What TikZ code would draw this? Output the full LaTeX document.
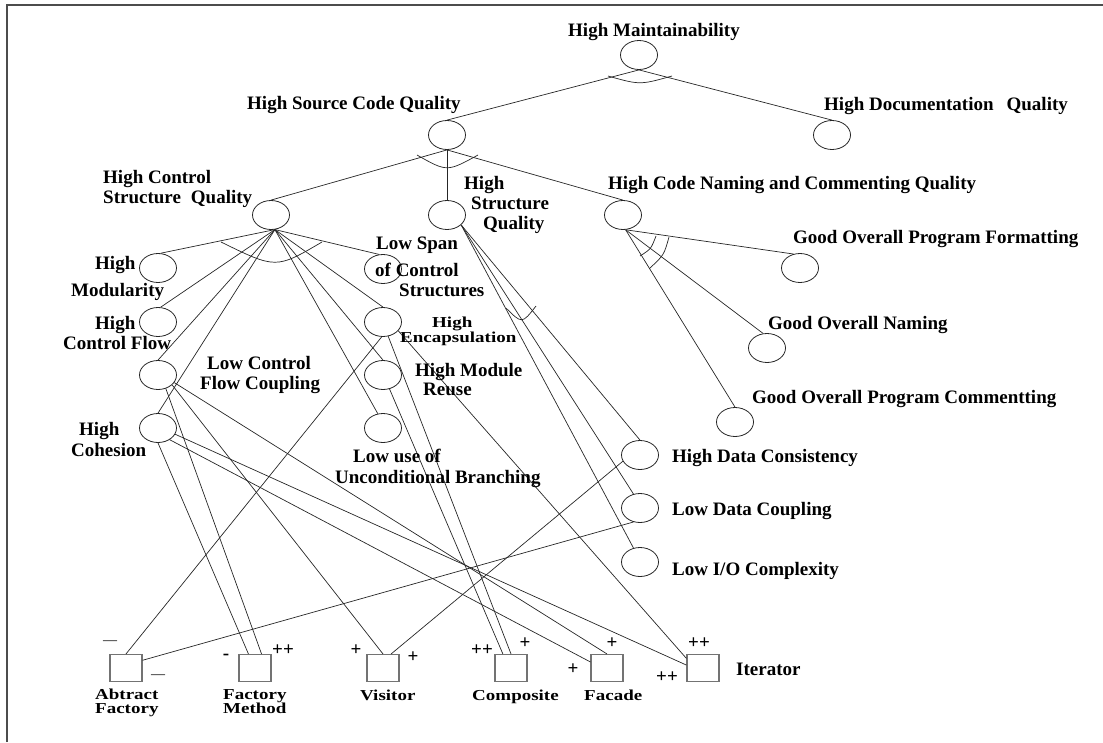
\documentclass[tikz,border=0pt]{standalone}
\usepackage{fontspec}
\setmainfont{Liberation Serif}
\usetikzlibrary{shapes.geometric}
\newcommand{\vsq}[1]{\scalebox{1}[0.8]{#1}}
\begin{document}
\begin{tikzpicture}[x=1pt,y=-1pt,
  goal/.style={draw=black!85, line width=0.8pt, ellipse, minimum width=37pt, minimum height=29pt, inner sep=0pt},
  pat/.style={draw=black!55, line width=1.1pt, rectangle, minimum width=32pt, minimum height=27pt, inner sep=0pt},
  lbl/.style={font=\fontsize{19}{20}\selectfont\bfseries, inner sep=0pt, anchor=base west},
  sgn/.style={font=\fontsize{19}{20}\selectfont\bfseries, inner sep=0pt},
  dsh/.style={font=\fontsize{14}{14}\selectfont, inner sep=0pt},
  link/.style={draw=black!85, line width=0.7pt},
  andarc/.style={draw=black!85, line width=0.7pt}]
\useasboundingbox (0,0) rectangle (1103,742);
% frame
\draw[gray!60!black, line width=1.8pt] (7,742) -- (7,5) -- (1103,5);

% goal nodes
\node[goal] (HM) at (639,55) {};
\node[goal] (HSCQ) at (447,135) {};
\node[goal] (HDQ) at (832,135) {};
\node[goal] (HCSQ) at (271,215) {};
\node[goal] (HSQ) at (447,215) {};
\node[goal] (HCNCQ) at (623,215) {};
\node[goal] (HMod) at (158,268) {};
\node[goal] (HCF) at (158,322) {};
\node[goal] (LCFC) at (158,375) {};
\node[goal] (HCoh) at (158,428) {};
\node[goal] (LSCS) at (383,269) {};
\node[goal] (HEnc) at (383,322) {};
\node[goal] (HMR) at (383,375) {};
\node[goal] (LUUB) at (383,428) {};
\node[goal] (GOPF) at (800,268) {};
\node[goal] (GON) at (767,348) {};
\node[goal] (GOPC) at (735,422) {};
\node[goal] (HDC) at (640,455) {};
\node[goal] (LDC) at (640,508) {};
\node[goal] (LIO) at (640,562) {};

% pattern boxes
\node[pat] (AF) at (126,668) {};
\node[pat] (FM) at (255,668) {};
\node[pat] (Vis) at (383,668) {};
\node[pat] (Comp) at (511,668) {};
\node[pat] (Fac) at (607,668) {};
\node[pat] (Iter) at (703,668) {};

% decomposition links
\draw[link] (HM.south) -- (HSCQ.north);
\draw[link] (HM.south) -- (HDQ.north);
\draw[andarc] (608,76) .. controls (640,85) .. (672,76);

\draw[link] (HSCQ.south) -- (HCSQ.north);
\draw[link] (HSCQ.south) -- (HSQ.north);
\draw[link] (HSCQ.south) -- (HCNCQ.north);
\draw[andarc] (417,155) .. controls (447,172) .. (478,155);

\draw[link] (HCSQ.-75) -- (HMod.80);
\draw[link] (HCSQ.-75) -- (HCF.80);
\draw[link] (HCSQ.-75) -- (LCFC.north);
\draw[link] (HCSQ.-75) -- (HCoh.north);
\draw[link] (HCSQ.-75) -- (LSCS.105);
\draw[link] (HCSQ.-75) -- (HEnc.north);
\draw[link] (HCSQ.-75) -- (HMR.north);
\draw[link] (HCSQ.-75) -- (LUUB.110);
\draw[andarc] (221,242) .. controls (276,269) .. (322,242);

\draw[link] (HSQ.-35) -- (HDC.north);
\draw[link] (HSQ.-35) -- (LDC.115);
\draw[link] (HSQ.-35) -- (LIO.115);
\draw[andarc] (506,308) .. controls (522,324) .. (536,306);

\draw[link] (HCNCQ.-80) -- (GOPF.115);
\draw[link] (HCNCQ.-80) -- (GON.105);
\draw[link] (HCNCQ.-80) -- (GOPC.north);
\draw[andarc] (656,236) .. controls (651,249) .. (640,256);
\draw[andarc] (669,237) .. controls (664,255) .. (650,268);

% contribution links
\draw[link] (HEnc.-95) -- (AF.north);
\draw[link] (LDC.-115) -- (AF.25);
\draw[link] (HCoh.south) -- (FM.115);
\draw[link] (LCFC.-60) -- (FM.65);
\draw[link] (LCFC.-35) -- (Vis.north);
\draw[link] (HDC.-160) -- (Vis.60);
\draw[link] (HMR.-65) -- (Comp.120);
\draw[link] (HEnc.-70) -- (Comp.north);
\draw[link] (LCFC.-25) -- (Fac.north);
\draw[link] (HCoh.-45) -- (Fac.160);
\draw[link] (HCoh.-20) -- (Iter.170);
\draw[link] (HEnc.-30) -- (Iter.150);

% labels
\node[lbl] (tHM) at (568,36) {High Maintainability};
\node[lbl] (tHSCQ) at (247,109) {High Source Code Quality};
\node[lbl] (tHDQ) at (824,110) {High Documentation\hspace{13pt}Quality};
\node[lbl] (tHCSQa) at (103,183) {High Control};
\node[lbl] (tHCSQb) at (103,203) {Structure\hspace{10pt}Quality};
\node[lbl] (tHSQa) at (464,189) {High};
\node[lbl] (tHSQb) at (471,209) {Structure};
\node[lbl] (tHSQc) at (483,229) {Quality};
\node[lbl] (tHCNCQ) at (608,189) {High Code Naming and Commenting Quality};
\node[lbl] (tGOPF) at (793,243) {Good Overall Program Formatting};
\node[lbl] (tGON) at (768,329) {Good Overall Naming};
\node[lbl] (tGOPC) at (752,403) {Good Overall Program Commentting};
\node[lbl] (tHModa) at (95,269) {High};
\node[lbl] (tHModb) at (71,296) {Modularity};
\node[lbl] (tHCFa) at (95,329) {High};
\node[lbl] (tHCFb) at (63,349) {Control Flow};
\node[lbl] (tLCFCa) at (207,369) {Low Control};
\node[lbl] (tLCFCb) at (200,389) {Flow Coupling};
\node[lbl] (tHCoha) at (79,435) {High};
\node[lbl] (tHCohb) at (71,456) {Cohesion};
\node[lbl] (tLSCSa) at (376,249) {Low Span};
\node[lbl] (tLSCSb) at (375,276) {of Control};
\node[lbl] (tLSCSc) at (399,296) {Structures};
\node[lbl] (tHEnca) at (432,327) {\vsq{High}};
\node[lbl] (tHEncb) at (400,342) {\vsq{Encapsulation}};
\node[lbl] (tHMRa) at (415,376) {High Module};
\node[lbl] (tHMRb) at (423,395) {Reuse};
\node[lbl] (tLUUBa) at (353,462) {Low use of};
\node[lbl] (tLUUBb) at (335,483) {Unconditional Branching};
\node[lbl] (tHDC) at (672,462) {High Data Consistency};
\node[lbl] (tLDC) at (672,515) {Low Data Coupling};
\node[lbl] (tLIO) at (672,575) {Low I/O Complexity};
\node[lbl] (tAFa) at (95,699) {\vsq{Abtract}};
\node[lbl] (tAFb) at (95,713) {\vsq{Factory}};
\node[lbl] (tFMa) at (223,699) {\vsq{Factory}};
\node[lbl] (tFMb) at (223,713) {\vsq{Method}};
\node[lbl] (tVis) at (360,700) {\vsq{Visitor}};
\node[lbl] (tComp) at (472,700) {\vsq{Composite}};
\node[lbl] (tFac) at (584,700) {\vsq{Facade}};
\node[lbl] (tIter) at (736,675) {Iterator};

% contribution signs
\node[dsh] (sAF1) at (110,643) {—};
\node[dsh] (sAF2) at (158,677) {—};
\node[sgn] (sFM1) at (226,657) {-};
\node[sgn] (sFM2) at (283,650) {++};
\node[sgn] (sVis1) at (356,650) {+};
\node[sgn] (sVis2) at (413,657) {+};
\node[sgn] (sComp1) at (482,650) {++};
\node[sgn] (sComp2) at (525,643) {+};
\node[sgn] (sFac1) at (573,669) {+};
\node[sgn] (sFac2) at (612,643) {+};
\node[sgn] (sIter1) at (699,643) {++};
\node[sgn] (sIter2) at (667,677) {++};
\end{tikzpicture}
\end{document}
